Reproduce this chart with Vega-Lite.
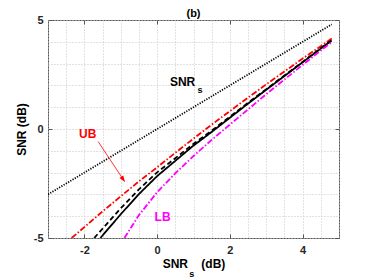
{
  "$schema": "https://vega.github.io/schema/vega-lite/v6.json",
  "width": 291,
  "height": 218,
  "autosize": {"type": "none"},
  "padding": {"left": 48, "top": 20, "right": 35, "bottom": 42},
  "background": "white",
  "title": {"text": "(b)", "fontSize": 11, "fontWeight": "bold", "color": "#000000", "offset": -5, "anchor": "middle"},
  "datasets": {
    "curves": [
      {"series": "SNRs", "x": -3, "y": -3},
      {"series": "SNRs", "x": 4.8, "y": 4.8},
      {"series": "UB", "x": -2.35, "y": -5.0},
      {"series": "UB", "x": -2.0, "y": -4.5},
      {"series": "UB", "x": -1.5, "y": -3.78},
      {"series": "UB", "x": -1.0, "y": -3.09},
      {"series": "UB", "x": -0.5, "y": -2.4},
      {"series": "UB", "x": 0.0, "y": -1.76},
      {"series": "UB", "x": 0.5, "y": -1.09},
      {"series": "UB", "x": 1.0, "y": -0.44},
      {"series": "UB", "x": 1.5, "y": 0.2},
      {"series": "UB", "x": 2.0, "y": 0.82},
      {"series": "UB", "x": 2.5, "y": 1.44},
      {"series": "UB", "x": 3.0, "y": 2.05},
      {"series": "UB", "x": 3.5, "y": 2.64},
      {"series": "UB", "x": 4.0, "y": 3.23},
      {"series": "UB", "x": 4.5, "y": 3.8},
      {"series": "UB", "x": 4.8, "y": 4.15},
      {"series": "Sim", "x": -1.73, "y": -5.0},
      {"series": "Sim", "x": -1.5, "y": -4.57},
      {"series": "Sim", "x": -1.0, "y": -3.64},
      {"series": "Sim", "x": -0.5, "y": -2.765},
      {"series": "Sim", "x": 0.0, "y": -1.99},
      {"series": "Sim", "x": 0.5, "y": -1.34},
      {"series": "Sim", "x": 1.0, "y": -0.68},
      {"series": "Sim", "x": 1.5, "y": -0.075},
      {"series": "Sim", "x": 2.0, "y": 0.565},
      {"series": "Sim", "x": 2.5, "y": 1.205},
      {"series": "Sim", "x": 3.0, "y": 1.83},
      {"series": "Sim", "x": 3.5, "y": 2.455},
      {"series": "Sim", "x": 4.0, "y": 3.08},
      {"series": "Sim", "x": 4.5, "y": 3.71},
      {"series": "Sim", "x": 4.8, "y": 4.07},
      {"series": "Exact", "x": -1.56, "y": -5.0},
      {"series": "Exact", "x": -1.0, "y": -3.91},
      {"series": "Exact", "x": -0.5, "y": -2.985},
      {"series": "Exact", "x": 0.0, "y": -2.16},
      {"series": "Exact", "x": 0.5, "y": -1.46},
      {"series": "Exact", "x": 1.0, "y": -0.76},
      {"series": "Exact", "x": 1.5, "y": -0.135},
      {"series": "Exact", "x": 2.0, "y": 0.515},
      {"series": "Exact", "x": 2.5, "y": 1.165},
      {"series": "Exact", "x": 3.0, "y": 1.8},
      {"series": "Exact", "x": 3.5, "y": 2.43},
      {"series": "Exact", "x": 4.0, "y": 3.06},
      {"series": "Exact", "x": 4.5, "y": 3.69},
      {"series": "Exact", "x": 4.8, "y": 4.06},
      {"series": "LB", "x": -0.9, "y": -5.0},
      {"series": "LB", "x": -0.5, "y": -3.95},
      {"series": "LB", "x": 0.0, "y": -2.9},
      {"series": "LB", "x": 0.5, "y": -2.03},
      {"series": "LB", "x": 1.0, "y": -1.24},
      {"series": "LB", "x": 1.5, "y": -0.5},
      {"series": "LB", "x": 2.0, "y": 0.2},
      {"series": "LB", "x": 2.5, "y": 0.9},
      {"series": "LB", "x": 3.0, "y": 1.6},
      {"series": "LB", "x": 3.5, "y": 2.27},
      {"series": "LB", "x": 4.0, "y": 2.94},
      {"series": "LB", "x": 4.5, "y": 3.6},
      {"series": "LB", "x": 4.8, "y": 3.98}
    ],
    "labels": [
      {"label": "SNR", "x": 0.7, "y": 2.16, "series": "SNRs"},
      {"label": "UB", "x": -1.91, "y": -0.23, "series": "UB"},
      {"label": "LB", "x": 0.15, "y": -4.02, "series": "LB"}
    ],
    "subs": [
      {"label": "s", "x": 1.18, "y": 1.79, "series": "SNRs"}
    ],
    "axissub": [
      {"label": "s", "x": 0.95, "y": -5}
    ],
    "arrow": [
      {"x": -1.62, "y": -0.58, "x2": -0.89, "y2": -2.42}
    ]
  },
  "layer": [
    {
      "data": {"name": "curves"},
      "mark": {"type": "line", "strokeWidth": 1.8, "clip": true},
      "encoding": {
        "x": {
          "field": "x", "type": "quantitative",
          "scale": {"domain": [-3, 5], "nice": false, "zero": false},
          "axis": {
            "orient": "bottom",
            "values": [-3, -2.5, -2, -1.5, -1, -0.5, 0, 0.5, 1, 1.5, 2, 2.5, 3, 3.5, 4, 4.5, 5],
            "grid": true, "gridColor": "#c4c4c4", "gridDash": [1, 2], "gridWidth": 1,
            "domain": false,
            "tickSize": -4, "tickColor": "#555555", "tickWidth": 1,
            "tickOpacity": {"condition": {"test": "datum.value % 2 == 0", "value": 1}, "value": 0},
            "labelExpr": "datum.value % 2 == 0 ? (datum.value < 0 ? '-' + abs(datum.value) : '' + datum.value) : ''",
            "labelFontSize": 11, "labelFontWeight": "bold", "labelColor": "#262626",
            "labelPadding": 10, "labelOverlap": false, "labelFlush": false, "labelBound": false,
            "title": "SNR\u00a0\u00a0\u00a0\u00a0(dB)", "titleFontSize": 12, "titleFontWeight": "bold", "titleColor": "#000000",
            "titlePadding": 3
          }
        },
        "y": {
          "field": "y", "type": "quantitative",
          "scale": {"domain": [-5, 5], "nice": false, "zero": false},
          "axis": {
            "orient": "left",
            "values": [-5, -4, -3, -2, -1, 0, 1, 2, 3, 4, 5],
            "grid": true, "gridColor": "#c4c4c4", "gridDash": [1, 2], "gridWidth": 1,
            "domain": false,
            "tickSize": -4, "tickColor": "#555555", "tickWidth": 1,
            "tickOpacity": {"condition": {"test": "datum.value % 5 == 0", "value": 1}, "value": 0},
            "labelExpr": "datum.value % 5 == 0 ? (datum.value < 0 ? '-' + abs(datum.value) : '' + datum.value) : ''",
            "labelFontSize": 11, "labelFontWeight": "bold", "labelColor": "#262626",
            "labelPadding": 9, "labelOverlap": false, "labelFlush": false, "labelBound": false,
            "title": "SNR (dB)", "titleFontSize": 12, "titleFontWeight": "bold", "titleColor": "#000000",
            "titlePadding": 5
          }
        },
        "color": {
          "field": "series", "type": "nominal",
          "scale": {"domain": ["SNRs", "UB", "Sim", "Exact", "LB"], "range": ["#000000", "#ff0000", "#000000", "#000000", "#ff00ff"]},
          "legend": null
        },
        "strokeDash": {
          "field": "series", "type": "nominal",
          "scale": {"domain": ["SNRs", "UB", "Sim", "Exact", "LB"], "range": [[1.2, 1.4], [6, 2, 1.5, 2], [5, 3], [1, 0], [6, 2, 1.5, 2]]},
          "legend": null
        }
      }
    },
    {
      "data": {"name": "labels"},
      "mark": {"type": "text", "fontSize": 12, "fontWeight": "bold", "baseline": "middle", "align": "center"},
      "encoding": {
        "x": {
          "field": "x", "type": "quantitative",
          "scale": {"domain": [-3, 5], "nice": false, "zero": false},
          "axis": {"orient": "top", "values": [-2, 0, 2, 4], "grid": false, "labels": false, "domain": false, "tickSize": -4, "tickColor": "#555555", "tickWidth": 1, "title": null}
        },
        "y": {
          "field": "y", "type": "quantitative",
          "scale": {"domain": [-5, 5], "nice": false, "zero": false},
          "axis": {"orient": "right", "values": [-5, 0, 5], "grid": false, "labels": false, "domain": false, "tickSize": -4, "tickColor": "#555555", "tickWidth": 1, "title": null}
        },
        "text": {"field": "label"},
        "color": {
          "field": "series", "type": "nominal",
          "scale": {"domain": ["SNRs", "UB", "Sim", "Exact", "LB"], "range": ["#000000", "#ff0000", "#000000", "#000000", "#ff00ff"]},
          "legend": null
        }
      }
    },
    {
      "data": {"name": "subs"},
      "mark": {"type": "text", "fontSize": 9, "fontWeight": "bold", "baseline": "middle", "align": "center"},
      "encoding": {
        "x": {"field": "x", "type": "quantitative", "scale": {"domain": [-3, 5], "nice": false, "zero": false}, "axis": null},
        "y": {"field": "y", "type": "quantitative", "scale": {"domain": [-5, 5], "nice": false, "zero": false}, "axis": null},
        "text": {"field": "label"},
        "color": {
          "field": "series", "type": "nominal",
          "scale": {"domain": ["SNRs", "UB", "Sim", "Exact", "LB"], "range": ["#000000", "#ff0000", "#000000", "#000000", "#ff00ff"]},
          "legend": null
        }
      }
    },
    {
      "data": {"name": "axissub"},
      "mark": {"type": "text", "fontSize": 9, "fontWeight": "bold", "baseline": "alphabetic", "align": "center", "dy": 39, "color": "#000000"},
      "encoding": {
        "x": {"field": "x", "type": "quantitative", "scale": {"domain": [-3, 5], "nice": false, "zero": false}, "axis": null},
        "y": {"field": "y", "type": "quantitative", "scale": {"domain": [-5, 5], "nice": false, "zero": false}, "axis": null},
        "text": {"field": "label"}
      }
    },
    {
      "data": {"name": "arrow"},
      "mark": {"type": "rule", "color": "#ff0000", "strokeWidth": 0.8},
      "encoding": {
        "x": {"field": "x", "type": "quantitative", "scale": {"domain": [-3, 5], "nice": false, "zero": false}, "axis": null},
        "y": {"field": "y", "type": "quantitative", "scale": {"domain": [-5, 5], "nice": false, "zero": false}, "axis": null},
        "x2": {"field": "x2"},
        "y2": {"field": "y2"}
      }
    },
    {
      "data": {"name": "arrow"},
      "mark": {"type": "point", "shape": "M0,0L-0.4,-1L0.4,-1Z", "filled": true, "color": "#ff0000", "size": 144, "angle": 326, "opacity": 1, "strokeWidth": 0},
      "encoding": {
        "x": {"field": "x2", "type": "quantitative", "scale": {"domain": [-3, 5], "nice": false, "zero": false}, "axis": null},
        "y": {"field": "y2", "type": "quantitative", "scale": {"domain": [-5, 5], "nice": false, "zero": false}, "axis": null}
      }
    }
  ],
  "resolve": {"axis": {"x": "independent", "y": "independent"}},
  "config": {
    "font": "Liberation Sans",
    "view": {"stroke": "#555555", "strokeWidth": 1}
  }
}
